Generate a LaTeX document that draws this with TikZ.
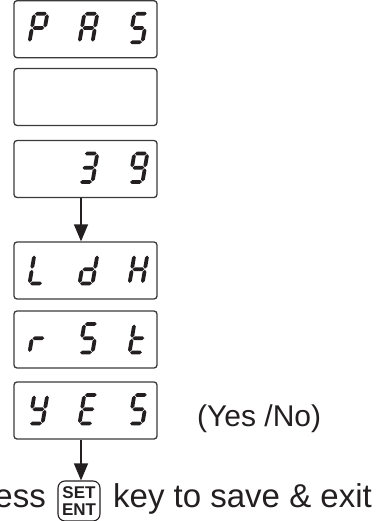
\documentclass[tikz,border=0pt]{standalone}
\usepackage{fontspec}
\setmainfont{Liberation Sans}
\usetikzlibrary{arrows.meta,calc}
\definecolor{ink}{HTML}{231F20}
\definecolor{frame}{HTML}{3A3A3A}
\def\W{13}
\def\H{28.5}
\newcommand\hseg[1]{\fill[ink] (0.6,#1) -- (2.5,#1+1.9) -- (\W-2.5,#1+1.9) -- (\W-0.6,#1) -- (\W-2.5,#1-1.9) -- (2.5,#1-1.9) -- cycle;}
\newcommand\vseg[2]{\fill[ink] (#1,#2+0.6) -- (#1+1.9,#2+2.5) -- (#1+1.9,#2+\H/2-2.5) -- (#1,#2+\H/2-0.6) -- (#1-1.9,#2+\H/2-2.5) -- (#1-1.9,#2+2.5) -- cycle;}
\newcommand\dsega{\hseg{\H}}
\newcommand\dsegg{\hseg{\H/2}}
\newcommand\dsegd{\hseg{0}}
\newcommand\dsegf{\vseg{0}{\H/2}}
\newcommand\dsege{\vseg{0}{0}}
\newcommand\dsegb{\vseg{\W}{\H/2}}
\newcommand\dsegc{\vseg{\W}{0}}
% #1 x origin, #2 box node, #3 segments
\newcommand\digitat[3]{\begin{scope}[shift={($(#1,0)+(0,0|-#2.center)+(0,-13)$)},xslant=0.17]
  \foreach \s in {#3}{\csname dseg\s\endcsname}\end{scope}}
\begin{document}
\begin{tikzpicture}[x=1pt,y=1pt,
  disp/.style={draw=frame,line width=1.3pt,rounded corners=3pt,minimum width=143pt,minimum height=57pt,inner sep=0pt},
  flow/.style={draw=ink,line width=1.3pt,-{Triangle[length=17pt,width=14pt]}},
  lbl/.style={text=ink,inner sep=0pt}]
\useasboundingbox (0,0) rectangle (390,-521);
\clip (0,0) rectangle (390,-521);
\node[disp] (b1) at (85.5,-29.2) {};
\node[disp] (b2) at (85.5,-97) {};
\node[disp] (b3) at (85.5,-169) {};
\node[disp] (b4) at (85.5,-270.5) {};
\node[disp] (b5) at (85.5,-339.5) {};
\node[disp] (b6) at (85.5,-410.5) {};
% digits
\digitat{29.5}{b1}{a,b,f,g,e}
\digitat{79.5}{b1}{a,b,c,e,f,g}
\digitat{129.5}{b1}{a,f,g,c,d}
\digitat{79.5}{b3}{a,b,g,c,d}
\digitat{129.5}{b3}{a,b,f,g,c,d}
\digitat{29.5}{b4}{f,e,d}
\digitat{79.5}{b4}{b,c,g,e,d}
\digitat{129.5}{b4}{f,b,g,e,c}
\digitat{29.5}{b5}{g,e}
\digitat{79.5}{b5}{a,f,g,c,d}
\digitat{129.5}{b5}{f,e,g,d}
\digitat{29.5}{b6}{f,b,g,c,d}
\digitat{79.5}{b6}{a,f,g,e,d}
\digitat{129.5}{b6}{a,f,g,c,d}
\node[lbl,anchor=base west,font=\fontsize{30}{34}\selectfont] (yn) at (197,-426) {(Yes /No)};
% bottom line
\node[lbl,anchor=base east,font=\fontsize{33}{38}\selectfont] (press) at (46,-507) {Press};
\node[draw=ink,line width=1.1pt,rounded corners=7pt,minimum width=42pt,minimum height=40pt,inner sep=0pt,
  align=center,text=ink,font=\fontsize{17}{17}\selectfont\bfseries] (key) at (79,-501) {SET\\ENT};
\node[lbl,anchor=base west,font=\fontsize{33}{38}\selectfont] (rest) at (113,-507) {key to save \& exit};
\draw[flow] ([xshift=-4.5pt]b3.south) -- ([xshift=-4.5pt]b4.north);
\draw[flow] ([xshift=-4.5pt]b6.south) -- ([xshift=-4.5pt]b6.south |- key.north);
\end{tikzpicture}
\end{document}
